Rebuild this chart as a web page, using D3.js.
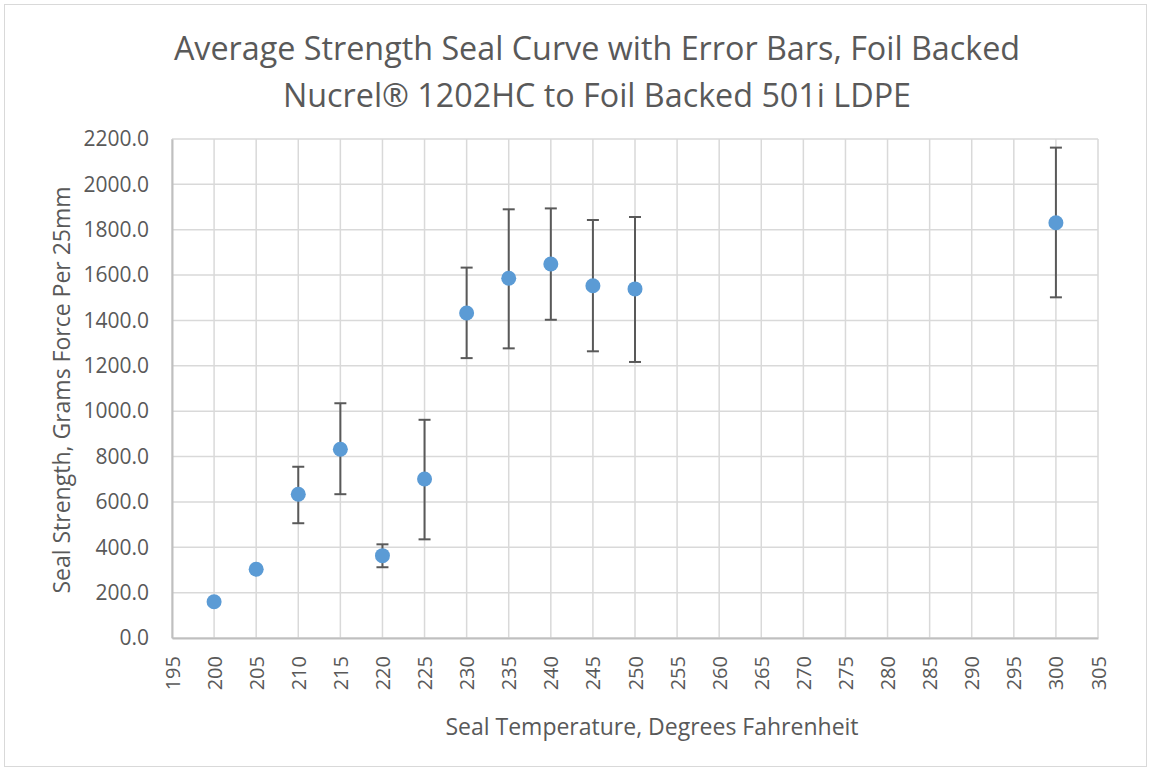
<!DOCTYPE html>
<html>
<head>
<meta charset="utf-8">
<script src="https://cdn.jsdelivr.net/npm/d3@7"></script>
<style>
  html, body { margin: 0; padding: 0; background: #fff; }
  svg { display: block; }
  text { font-family: "Open Sans", "Noto Sans", sans-serif; fill: #595959; }
</style>
</head>
<body>
<svg id="chart" width="1151" height="771"></svg>
<script>
// ---- data ----
const temperatures = [200, 205, 210, 215, 220, 225, 230, 235, 240, 245, 250, 300];
const strength     = [160, 303, 634, 832, 363, 701, 1433, 1586, 1649, 1553, 1539, 1831];
const errorUpper   = [172, 312, 755, 1035, 413, 962, 1633, 1890, 1894, 1843, 1856, 2162];
const errorLower   = [150, 295, 506, 634, 312, 435, 1234, 1277, 1403, 1264, 1217, 1502];
const xTicks = d3.range(195, 306, 5);
const yTicks = d3.range(0, 2201, 200);
const titleLines = ["Average Strength Seal Curve with Error Bars, Foil Backed",
                    "Nucrel\u00AE 1202HC to Foil Backed 501i LDPE"];
const xTitle = "Seal Temperature, Degrees Fahrenheit";
const yTitle = "Seal Strength, Grams Force Per 25mm";

// ---- layout ----
const svg = d3.select("#chart");
const plot = { left: 172, top: 139, right: 1098, bottom: 638 };

svg.append("rect")
  .attr("x", 4.5).attr("y", 4.5).attr("width", 1142).attr("height", 762)
  .attr("fill", "#fff").attr("stroke", "#d9d9d9").attr("stroke-width", 1);

const x = d3.scaleLinear().domain([195, 305]).range([plot.left, plot.right]);
const y = d3.scaleLinear().domain([0, 2200]).range([plot.bottom, plot.top]);

// gridlines
const grid = svg.append("g");
grid.selectAll("line.v").data(xTicks).join("line")
  .attr("x1", d => x(d)).attr("x2", d => x(d))
  .attr("y1", plot.top).attr("y2", plot.bottom)
  .attr("stroke", "#d9d9d9").attr("stroke-width", 1.5);
grid.selectAll("line.h").data(yTicks).join("line")
  .attr("x1", plot.left).attr("x2", plot.right)
  .attr("y1", d => y(d)).attr("y2", d => y(d))
  .attr("stroke", "#d9d9d9").attr("stroke-width", 1.5);

// axes
const yAxis = d3.axisLeft(y).tickValues(yTicks).tickFormat(d3.format(".1f")).tickSize(0).tickPadding(23);
const gy = svg.append("g").attr("transform", `translate(${plot.left},0)`).call(yAxis);
gy.select(".domain").attr("stroke", "#bfbfbf").attr("stroke-width", 2);
gy.selectAll("text").style("font-size", "21px").style("fill", "#595959").style("font-family", "'Open Sans', sans-serif");

const xAxis = d3.axisBottom(x).tickValues(xTicks).tickFormat(d3.format("d")).tickSize(0);
const gx = svg.append("g").attr("transform", `translate(0,${plot.bottom})`).call(xAxis);
gx.select(".domain").attr("stroke", "#bfbfbf").attr("stroke-width", 2);
gx.selectAll("text")
  .style("font-size", "20px").style("fill", "#595959").style("font-family", "'Open Sans', sans-serif")
  .attr("transform", "rotate(-90)")
  .attr("x", -18).attr("y", 0).attr("dy", "0.35em")
  .attr("text-anchor", "end");

// error bars
const eb = svg.append("g").attr("stroke", "#595959").attr("stroke-width", 2);
temperatures.forEach((t, i) => {
  const cx = x(t);
  eb.append("line").attr("x1", cx).attr("x2", cx).attr("y1", y(errorLower[i])).attr("y2", y(errorUpper[i]));
  eb.append("line").attr("x1", cx - 6).attr("x2", cx + 6).attr("y1", y(errorLower[i])).attr("y2", y(errorLower[i]));
  eb.append("line").attr("x1", cx - 6).attr("x2", cx + 6).attr("y1", y(errorUpper[i])).attr("y2", y(errorUpper[i]));
});

// points
svg.append("g").selectAll("circle").data(temperatures).join("circle")
  .attr("cx", d => x(d))
  .attr("cy", (d, i) => y(strength[i]))
  .attr("r", 7.5)
  .attr("fill", "#5b9bd5");

// titles
svg.append("text").attr("x", 597).attr("y", 60).attr("text-anchor", "middle")
  .style("font-size", "32.3px").text(titleLines[0]);
svg.append("text").attr("x", 597).attr("y", 107).attr("text-anchor", "middle")
  .style("font-size", "32.3px").text(titleLines[1]);

svg.append("text").attr("x", 652).attr("y", 735).attr("text-anchor", "middle")
  .style("font-size", "23px").text(xTitle);

svg.append("text").attr("transform", "translate(70,390) rotate(-90)").attr("text-anchor", "middle")
  .style("font-size", "23px").text(yTitle);
</script>
</body>
</html>
